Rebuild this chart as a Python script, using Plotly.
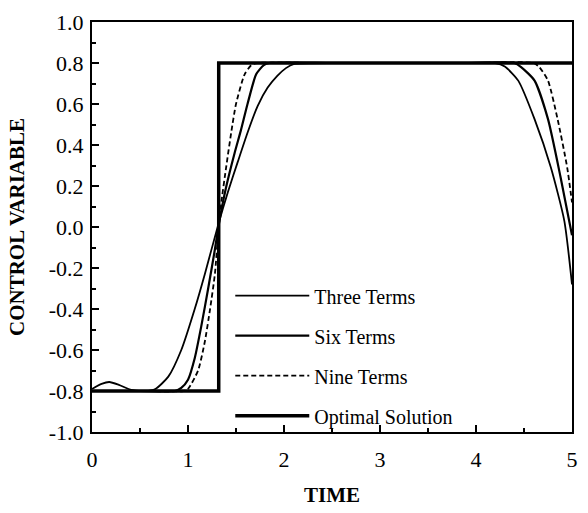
import plotly.graph_objects as go

# ---- data ----
t_three = [0, 0.1, 0.18, 0.28, 0.41, 0.55, 0.66, 0.795, 0.93, 1.07, 1.175, 1.32, 1.415,
           1.52, 1.62, 1.725, 1.83, 1.93, 2.02, 2.1, 2.6, 3.2, 3.8, 4.2, 4.3, 4.44, 4.61, 4.78, 4.92, 5.0]
v_three = [-0.79, -0.765, -0.756, -0.77, -0.795, -0.8, -0.79, -0.73, -0.60, -0.40, -0.23, 0.02, 0.17,
           0.32, 0.46, 0.59, 0.68, 0.737, 0.775, 0.795, 0.8, 0.8, 0.8, 0.8, 0.783, 0.714, 0.526, 0.29, 0.03, -0.28]

t_six = [0, 0.5, 0.865, 0.93, 1.00, 1.07, 1.14, 1.21, 1.28, 1.32, 1.395, 1.485, 1.55, 1.62,
         1.71, 1.79, 1.85, 2.5, 3.2, 3.9, 4.4, 4.47, 4.61, 4.75, 4.88, 5.0]
v_six = [-0.8, -0.8, -0.8, -0.785, -0.745, -0.64, -0.48, -0.30, -0.11, 0.01, 0.19, 0.36, 0.47, 0.60,
         0.745, 0.79, 0.8, 0.8, 0.8, 0.8, 0.8, 0.78, 0.714, 0.526, 0.245, -0.04]

t_nine = [0, 0.5, 0.95, 1.00, 1.105, 1.175, 1.23, 1.28, 1.32, 1.35, 1.40, 1.45, 1.50, 1.59,
          1.66, 1.72, 2.4, 3.2, 4.0, 4.6, 4.66, 4.75, 4.85, 4.95, 5.0]
v_nine = [-0.8, -0.8, -0.8, -0.79, -0.70, -0.56, -0.40, -0.23, 0.0, 0.13, 0.30, 0.46, 0.60, 0.745,
          0.79, 0.8, 0.8, 0.8, 0.8, 0.8, 0.78, 0.714, 0.526, 0.29, 0.12]

t_opt = [0, 1.32, 1.32, 5]
v_opt = [-0.8, -0.8, 0.8, 0.8]

series_names = ["Three Terms", "Six Terms", "Nine Terms", "Optimal Solution"]

y_tickvals = [-1.0, -0.8, -0.6, -0.4, -0.2, 0.0, 0.2, 0.4, 0.6, 0.8, 1.0]
y_ticktext = ["-1.0", "-0.8", "-0.6", "-0.4", "-0.2", "0.0", "0.2", "0.4", "0.6", "0.8", "1.0"]
x_tickvals = [0, 1, 2, 3, 4, 5]
x_ticktext = ["0", "1", "2", "3", "4", "5"]

FONT = "Liberation Serif, Times New Roman, serif"

fig = go.Figure()
common = dict(mode="lines", line_shape="spline")
fig.add_trace(go.Scatter(x=t_three, y=v_three, name=series_names[0], legendgroup="a",
                         line=dict(color="black", width=1.8, smoothing=0.6), **common))
fig.add_trace(go.Scatter(x=t_six, y=v_six, name=series_names[1], legendgroup="b",
                         line=dict(color="black", width=2.2, smoothing=0.6), **common))
fig.add_trace(go.Scatter(x=t_nine, y=v_nine, name=series_names[2], legendgroup="c",
                         line=dict(color="black", width=1.8, dash="5px,3px", smoothing=0.6), **common))
fig.add_trace(go.Scatter(x=t_opt, y=v_opt, name=series_names[3], legendgroup="d", mode="lines",
                         line=dict(color="black", width=3.5)))

fig.update_layout(
    width=588, height=513,
    margin=dict(l=92, r=10, t=16, b=71),
    paper_bgcolor="white", plot_bgcolor="white",
    font=dict(family=FONT, color="black", size=19),
    showlegend=True,
    legend=dict(x=(232 - 92) / 486, y=0.38, xanchor="left", yanchor="top",
                bgcolor="rgba(0,0,0,0)", borderwidth=0,
                font=dict(family=FONT, size=20, color="black"),
                tracegroupgap=11, itemwidth=74),
)
fig.update_xaxes(range=[0, 5], tickvals=x_tickvals, ticktext=x_ticktext,
                 ticks="inside", ticklen=7, tickwidth=1.5, tickcolor="black",
                 minor=dict(dtick=0.5, ticks="inside", ticklen=4, tickwidth=1.5, tickcolor="black"),
                 showline=True, linecolor="black", linewidth=2, mirror=True,
                 showgrid=False, zeroline=False, ticklabelstandoff=7,
                 tickfont=dict(family=FONT, size=22),
                 title=dict(text="<b>TIME</b>", font=dict(family=FONT, size=21), standoff=16))
fig.update_yaxes(range=[-1, 1], tickvals=y_tickvals, ticktext=y_ticktext,
                 ticks="inside", ticklen=7, tickwidth=1.5, tickcolor="black",
                 minor=dict(dtick=0.1, ticks="inside", ticklen=4, tickwidth=1.5, tickcolor="black"),
                 showline=True, linecolor="black", linewidth=2, mirror=True,
                 showgrid=False, zeroline=False, ticklabelstandoff=2,
                 tickfont=dict(family=FONT, size=22),
                 title=dict(text="<b>CONTROL VARIABLE</b>",
                            font=dict(family=FONT, size=21), standoff=18))

fig.write_html("out.html")
